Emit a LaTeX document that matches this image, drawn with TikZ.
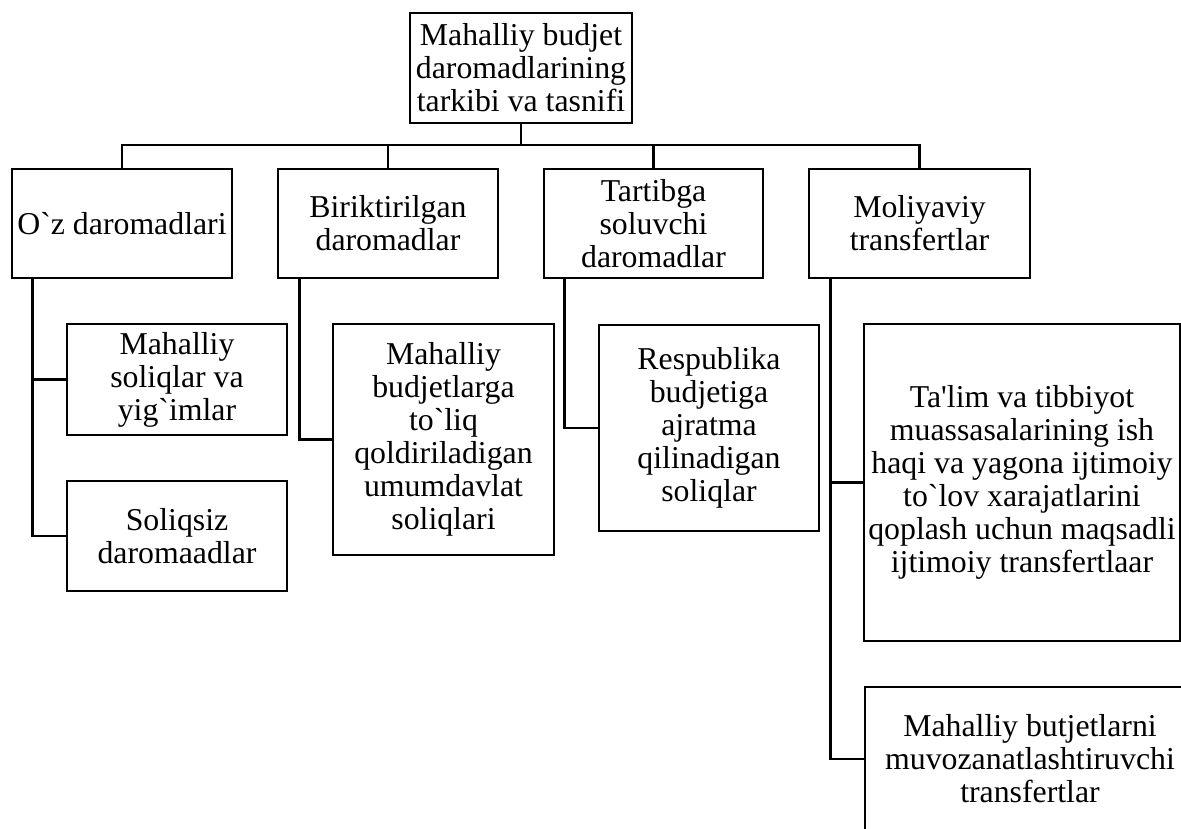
\documentclass[tikz,border=0pt]{standalone}
\usepackage{fontspec}
\setmainfont{Liberation Serif}[Ligatures=TeXOff]
\tikzset{
  box/.style={draw, line width=2.6pt, rectangle, inner sep=0pt, align=center,
    font=\fontsize{31.8}{33}\selectfont, fill=white},
  link/.style={line width=2.6pt, line join=miter}
}
\begin{document}
\begin{tikzpicture}[x=1pt,y=-1pt]
\useasboundingbox (0,0) rectangle (1181,829);
\clip (0,0) rectangle (1181,829);
\fill[white] (0,0) rectangle (1181,829);
% level 1
\node[box, minimum width=222pt, minimum height=110pt] (top) at (521,68)
  {Mahalliy budjet\\daromadlarining\\tarkibi va tasnifi};
% level 2
\node[box, minimum width=220pt, minimum height=109pt] (b1) at (122,223.5) {O`z daromadlari};
\node[box, minimum width=220pt, minimum height=109pt] (b2) at (388,223.5) {Biriktirilgan\\daromadlar};
\node[box, minimum width=219pt, minimum height=109pt] (b3) at (653.5,223.5) {Tartibga\\soluvchi\\daromadlar};
\node[box, minimum width=221pt, minimum height=109pt] (b4) at (919.5,223.5) {Moliyaviy\\transfertlar};
% level 3
\node[box, minimum width=220pt, minimum height=111pt] (c1) at (177,379.5) {Mahalliy\\soliqlar va\\yig`imlar};
\node[box, minimum width=220pt, minimum height=110pt] (c2) at (177,536) {Soliqsiz\\daromaadlar};
\node[box, minimum width=221pt, minimum height=231pt] (d1) at (443.5,439.5)
  {Mahalliy\\budjetlarga\\to`liq\\qoldiriladigan\\umumdavlat\\soliqlari};
\node[box, minimum width=220pt, minimum height=206pt] (e1) at (709,428)
  {Respublika\\budjetiga\\ajratma\\qilinadigan\\soliqlar};
\node[box, minimum width=316pt, minimum height=317pt] (f1) at (1022,482.5)
  {Ta'lim va tibbiyot\\muassasalarining ish\\haqi va yagona ijtimoiy\\to`lov xarajatlarini\\qoplash uchun maqsadli\\ijtimoiy transfertlaar};
\node[box, minimum width=330pt, minimum height=144pt] (f2) at (1030,759)
  {Mahalliy butjetlarni\\muvozanatlashtiruvchi\\transfertlar};
% connectors
\coordinate (bus) at (521,145);
\draw[link] (top.south) -- (bus);
\draw[link] (b1.north) |- (bus) -| (b4.north);
\draw[link] (b2.north) -- (b2.north |- bus);
\draw[link] (b3.north) -- (b3.north |- bus);
\coordinate (s1) at ([xshift=22pt]b1.south west);
\coordinate (s2) at ([xshift=23pt]b2.south west);
\coordinate (s3) at ([xshift=22pt]b3.south west);
\coordinate (s4) at ([xshift=23pt]b4.south west);
\draw[link] (s1) |- (c2.west);
\draw[link] (c1.west) -- (c1.west -| s1);
\draw[link] (s2) |- (d1.west);
\draw[link] (s3) |- (e1.west);
\draw[link] (s4) |- (f2.west);
\draw[link] (f1.west) -- (f1.west -| s4);
\end{tikzpicture}
\end{document}
